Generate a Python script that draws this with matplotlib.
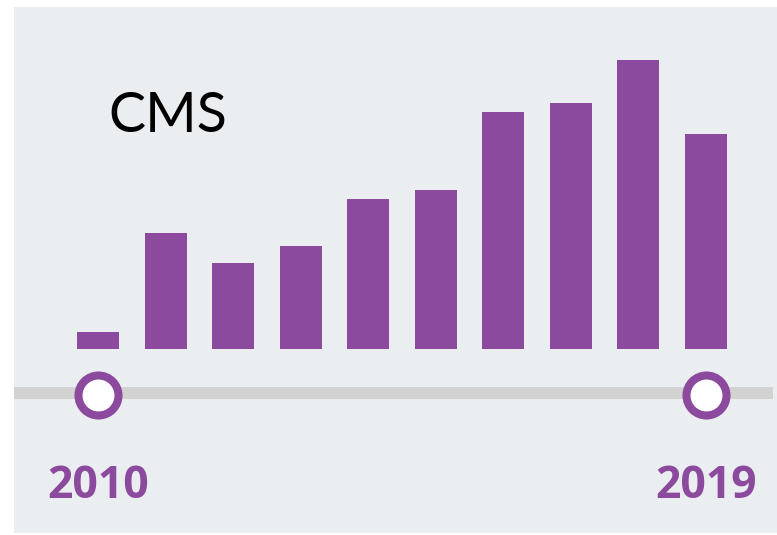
import matplotlib
matplotlib.use("Agg")
import matplotlib.pyplot as plt
from matplotlib.patches import Rectangle

# bar heights (relative units, 1 unit ~ 1 px)
years = [2010, 2011, 2012, 2013, 2014, 2015, 2016, 2017, 2018, 2019]
counts = [17, 116, 86, 103, 150, 159, 237, 246, 289, 215]
end_labels = ["2010", "2019"]
end_years = [2010, 2019]

BG = "#EBEEF0"
PURPLE = "#8B4A9D"
LINE = "#D2D2D2"

W, H = 777, 535
fig = plt.figure(figsize=(W / 100, H / 100), dpi=100, facecolor="white")

ax = fig.add_axes([0, 0, 1, 1])
ax.patch.set_visible(False)
ax.axis("off")

# grey panel behind everything
ax.add_patch(Rectangle((14 / W, 2 / H), 1 - 14 / W, (533 - 7) / H,
                       transform=fig.transFigure, facecolor=BG,
                       edgecolor="none", zorder=0))

# pixel layout: 2010 at x=98, 2019 at x=706, bar baseline at y=349 (from top)
step = (706 - 98) / 9
ax.set_xlim(2010 - 98 / step, 2010 + (W - 98) / step)
ax.set_ylim(349 - H, 349)

ax.bar(years, counts, width=42 / step, color=PURPLE, zorder=3)

# timeline
x0, x1 = ax.get_xlim()
ax.plot([x0 + 14 / step, x0 + 773 / step], [-44, -44], color=LINE, lw=8.6,
        solid_capstyle="butt", zorder=2)
ax.scatter(end_years, [-46, -46], s=830, facecolor="white", edgecolor=PURPLE,
           linewidths=5.8, zorder=4)

for yr, lab in zip(end_years, end_labels):
    ax.text(yr, -149, lab, ha="center", va="baseline", fontsize=32,
            fontweight="bold", color=PURPLE, family="Open Sans")

ax.text(2010 + (108 - 98) / step, 349 - 132, "CMS", ha="left", va="baseline",
        fontsize=40, color="black", family="Lato")

fig.savefig("out.png", dpi=100, facecolor="white")
